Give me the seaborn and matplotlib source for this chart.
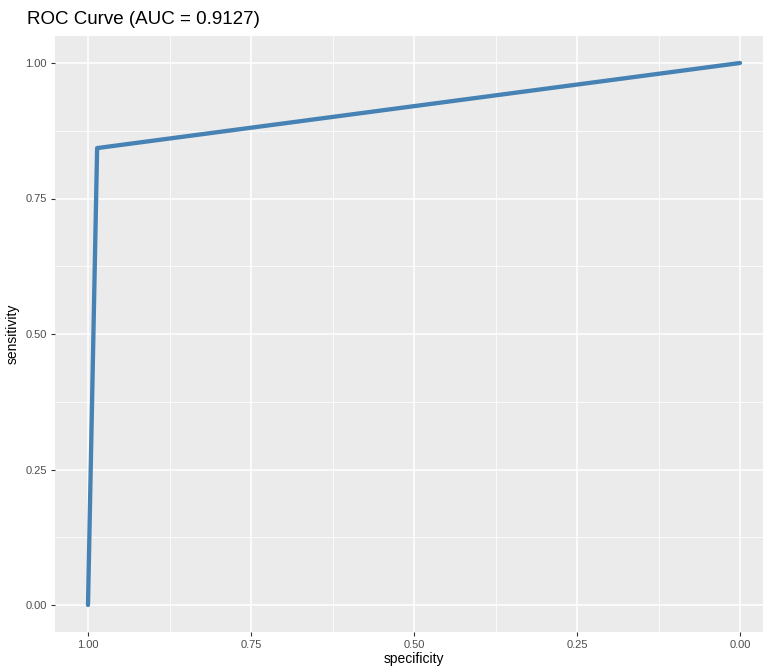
import matplotlib
matplotlib.use("Agg")
import matplotlib.pyplot as plt
import seaborn as sns
import pandas as pd
import numpy as np

# ROC curve points
specificity = [1.0, 0.986, 0.0]
sensitivity = [0.0, 0.843, 1.0]
auc_value = 0.9127
tick_values = [0.0, 0.25, 0.5, 0.75, 1.0]
tick_labels = ["0.00", "0.25", "0.50", "0.75", "1.00"]

df = pd.DataFrame({"specificity": specificity, "sensitivity": sensitivity})

sns.set_theme(style="darkgrid")
plt.rcParams["font.family"] = ["Liberation Sans", "DejaVu Sans"]

W, H = 763, 668
fig = plt.figure(figsize=(W / 100, H / 100), dpi=100)
left, right, top, bottom = 55.4, 772.6, 35.9, 632.1
ax = fig.add_axes([left / W, 1 - bottom / H, (right - left) / W, (bottom - top) / H])
ax.set_facecolor("#EBEBEB")

sns.lineplot(data=df, x="specificity", y="sensitivity", sort=False,
             color="#4682B4", linewidth=3.1, ax=ax, estimator=None)

ax.set_xlim(1.05, -0.05)
ax.set_ylim(-0.05, 1.05)
ax.set_xticks(tick_values)
ax.set_xticklabels(tick_labels)
ax.set_yticks(tick_values)
ax.set_yticklabels(tick_labels)
ax.set_xticks([0.125, 0.375, 0.625, 0.875], minor=True)
ax.set_yticks([0.125, 0.375, 0.625, 0.875], minor=True)

ax.grid(which="major", color="white", linewidth=1.1)
ax.grid(which="minor", color="white", linewidth=0.55)
for s in ax.spines.values():
    s.set_visible(False)

ax.tick_params(axis="both", which="major", length=3, width=0.8, color="#333333",
               labelsize=8, labelcolor="#4D4D4D", pad=3)
ax.tick_params(axis="both", which="minor", length=0)
ax.tick_params(axis="x", bottom=True)
ax.tick_params(axis="y", left=True)

ax.set_xlabel("specificity", fontsize=10, color="black", labelpad=1)
ax.set_ylabel("sensitivity", fontsize=10, color="black", labelpad=4)

fig.text(27 / W, 1 - 20 / H, f"ROC Curve (AUC = {auc_value:.4f})",
         fontsize=13.5, color="black", ha="left", va="center")

fig.savefig("out.png", dpi=100, facecolor="white")
